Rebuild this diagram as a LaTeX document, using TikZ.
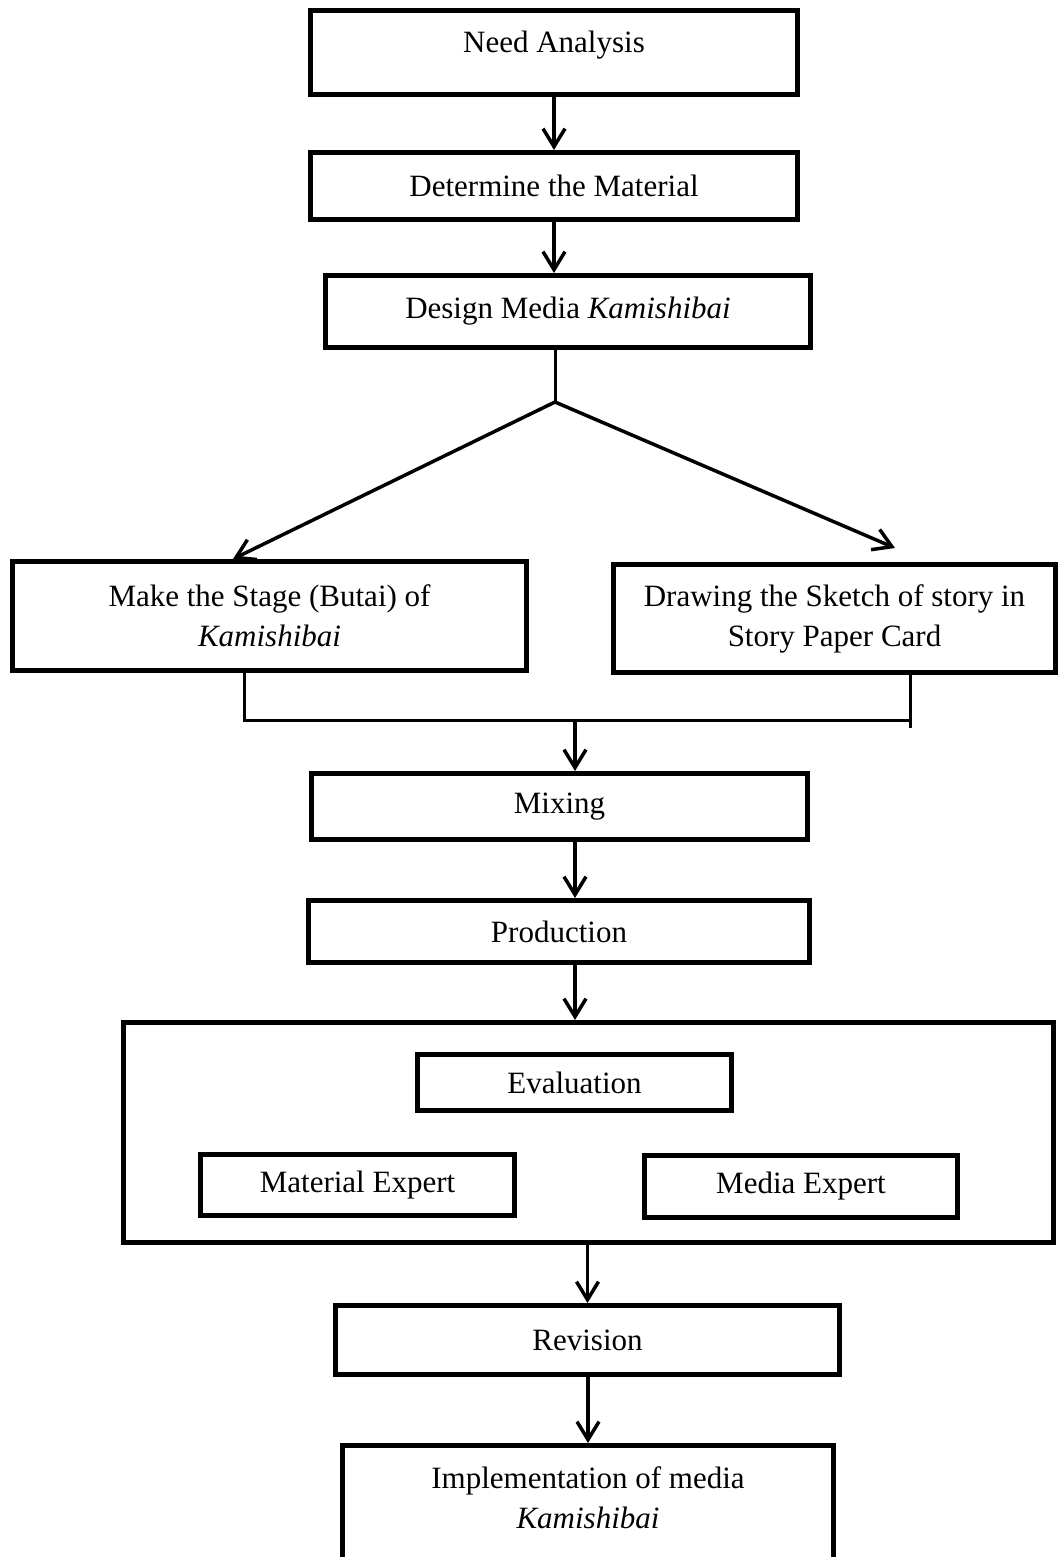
\documentclass[tikz,border=0pt]{standalone}
\usepackage{fontspec}
\setmainfont{Liberation Serif}
\usetikzlibrary{arrows.meta}

\begin{document}
\begin{tikzpicture}[x=1pt,y=-1pt,
  box/.style={draw,line width=5pt,inner sep=0pt,align=center},
  flow/.style={line width=3.5pt,-{Straight Barb[length=18pt,width=22pt]}},
  link/.style={line width=3pt},
  every node/.style={font=\fontsize{31}{40}\selectfont}]

  \useasboundingbox (0,0) rectangle (1059,1557);
  \clip (0,0) rectangle (1059,1557);

  % main steps
  \node[box,minimum width=487pt,minimum height=84pt,text height=42pt,text depth=42pt] (need) at (554,52.5) {Need Analysis};
  \node[box,minimum width=487pt,minimum height=67pt] (determine) at (554,186) {Determine the Material};
  \node[box,minimum width=485pt,minimum height=72pt] (design) at (568,311.5) {Design Media \textit{Kamishibai}};

  \node[box,minimum width=514pt,minimum height=109pt] (stage) at (269.5,616) {Make the Stage (Butai) of\\\textit{Kamishibai}};
  \node[box,minimum width=442pt,minimum height=108pt] (drawing) at (834.5,618.5) {Drawing the Sketch of story in\\Story Paper Card};

  \node[box,minimum width=496pt,minimum height=66pt] (mixing) at (559.5,806.5) {Mixing};
  \node[box,minimum width=501pt,minimum height=62pt] (production) at (559,931.5) {Production};

  % evaluation block
  \node[box,minimum width=930pt,minimum height=220pt] (evalbox) at (588.5,1132.5) {};
  \node[box,minimum width=314pt,minimum height=56pt] (evaluation) at (574.5,1082.5) {Evaluation};
  \node[box,minimum width=314pt,minimum height=61pt] (material) at (357.5,1185) {Material Expert};
  \node[box,minimum width=313pt,minimum height=62pt] (media) at (801,1186.5) {Media Expert};

  \node[box,minimum width=504pt,minimum height=69pt] (revision) at (587.5,1340) {Revision};
  \node[box,anchor=north,minimum width=491pt,text height=83pt,text depth=150pt] (impl) at (588,1443) {Implementation of media\\\textit{Kamishibai}};

  \coordinate (split) at (555,402);
  \coordinate (drawtip) at (895,548);
  \coordinate (joinL) at (244,720);
  \coordinate (joinR) at (910,728);
  \coordinate (join) at (575,720);

  \draw[flow] (need) -- (determine);
  \draw[flow] (determine.south) -- (determine.south |- design.north);
  \draw[link] (split |- design.south) -- (split);
  \draw[flow] (split) -- ([xshift=-36.5pt]stage.north);
  \draw[flow] (split) -- (drawtip);

  \draw[link] (joinL |- stage.south) -- (joinL) -- (joinL -| joinR);
  \draw[link] (joinR |- drawing.south) -- (joinR);
  \draw[flow] (join) -- (join |- mixing.north);
  \draw[flow] (join |- mixing.south) -- (join |- production.north);
  \draw[flow] (join |- production.south) -- (join |- evalbox.north);
  \draw[flow] (revision.north |- evalbox.south) -- (revision.north);
  \draw[flow] (impl.north |- revision.south) -- (impl.north);

\end{tikzpicture}
\end{document}
